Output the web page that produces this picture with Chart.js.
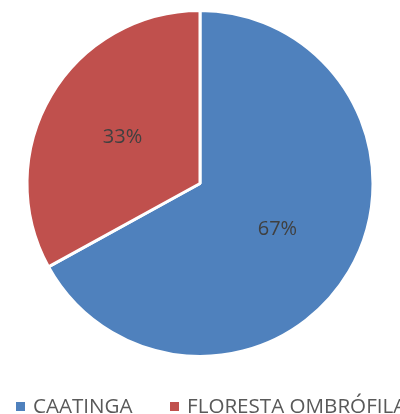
<!DOCTYPE html>
<html>
<head>
<meta charset="utf-8">
<script src="https://cdn.jsdelivr.net/npm/chart.js@4.4.0/dist/chart.umd.min.js"></script>
<style>
  html, body { margin: 0; padding: 0; background: #fff; overflow: hidden; }
  #wrap { position: relative; width: 400px; height: 414px; overflow: hidden; }
  #legend { position: absolute; left: 0; top: 391px; width: 600px; white-space: nowrap;
            font-family: 'Open Sans', sans-serif; font-size: 20.6px; color: #595959; }
  #legend span.item { position: absolute; top: 0; }
  #legend i { display: inline-block; width: 9px; height: 9px; margin-right: 8px; vertical-align: 2px; }
</style>
</head>
<body>
<div id="wrap">
  <canvas id="c" width="400" height="414"></canvas>
  <div id="legend"></div>
</div>
<script>
// data
const categories = ['CAATINGA', 'FLORESTA OMBRÓFILA'];
const shares = [67, 33];
const sliceColors = ['#4F81BD', '#C0504D'];
const legendLeft = [16, 170];

// percent labels in the middle of each slice
const sliceLabels = {
  id: 'sliceLabels',
  afterDatasetsDraw(chart) {
    const { ctx } = chart;
    const meta = chart.getDatasetMeta(0);
    const total = shares.reduce((a, b) => a + b, 0);
    ctx.save();
    ctx.font = "20px 'Open Sans', sans-serif";
    ctx.fillStyle = '#404040';
    ctx.textAlign = 'center';
    ctx.textBaseline = 'middle';
    meta.data.forEach((arc, i) => {
      const mid = (arc.startAngle + arc.endAngle) / 2;
      const r = arc.outerRadius * 0.52;
      const x = arc.x + Math.cos(mid) * r;
      const y = arc.y + Math.sin(mid) * r;
      ctx.fillText(Math.round(shares[i] / total * 100) + '%', x, y);
    });
    ctx.restore();
  },
};

new Chart(document.getElementById('c').getContext('2d'), {
  type: 'pie',
  data: {
    labels: categories,
    datasets: [{
      data: shares,
      backgroundColor: sliceColors,
      borderColor: '#ffffff',
      borderWidth: 3,
    }],
  },
  options: {
    responsive: false,
    animation: false,
    layout: { padding: { top: 9, bottom: 56, left: 0, right: 0 } },
    plugins: {
      legend: { display: false },
      tooltip: { enabled: false },
    },
  },
  plugins: [sliceLabels],
});

// html legend built from the same arrays
const legend = document.getElementById('legend');
categories.forEach((name, i) => {
  const item = document.createElement('span');
  item.className = 'item';
  item.style.left = legendLeft[i] + 'px';
  const box = document.createElement('i');
  box.style.background = sliceColors[i];
  item.appendChild(box);
  item.appendChild(document.createTextNode(name));
  legend.appendChild(item);
});
</script>
</body>
</html>
